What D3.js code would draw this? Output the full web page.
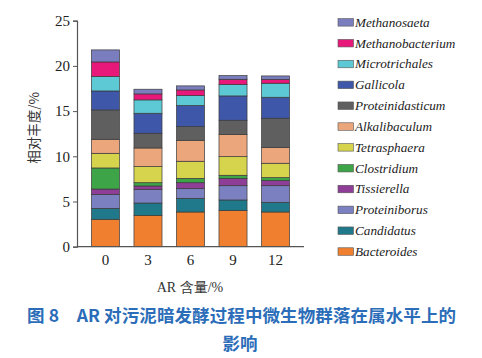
<!DOCTYPE html>
<html><head><meta charset="utf-8">
<script src="https://cdn.jsdelivr.net/npm/d3@7"></script>
<style>body{margin:0;background:#fff}svg{display:block}</style>
</head><body><div id="c"></div>
<script>
const categories = ["0","3","6","9","12"];
const genera = ["Bacteroides","Candidatus","Proteiniborus","Tissierella","Clostridium","Tetrasphaera","Alkalibaculum","Proteinidasticum","Gallicola","Microtrichales","Methanobacterium","Methanosaeta"];
const colors = ["#F0802F","#20798A","#7B80C0","#8E3E96","#3DA548","#D6D44C","#EBA67C","#5F5F5F","#3F57A8","#5DC9D5","#E8187B","#7A7EBE"];
const Bacteroides      = [3.03,3.47,3.84,3.99,3.84];
const Candidatus       = [1.21,1.36,1.51,1.18,1.07];
const Proteiniborus    = [1.55,1.52,1.07,1.58,1.84];
const Tissierella      = [0.59,0.37,0.66,0.81,0.56];
const Clostridium      = [2.33,0.36,0.48,0.34,0.33];
const Tetrasphaera     = [1.62,1.78,1.89,2.06,1.59];
const Alkalibaculum    = [1.55,2.06,2.32,2.44,1.73];
const Proteinidasticum = [3.25,1.63,1.51,1.59,3.25];
const Gallicola        = [2.10,2.21,2.33,2.69,2.32];
const Microtrichales   = [1.59,1.48,1.11,1.25,1.55];
const Methanobacterium = [1.62,0.66,0.62,0.59,0.44];
const Methanosaeta     = [1.33,0.52,0.45,0.41,0.37];
const yTicks = [0,5,10,15,20,25];

const series = [Bacteroides,Candidatus,Proteiniborus,Tissierella,Clostridium,Tetrasphaera,Alkalibaculum,Proteinidasticum,Gallicola,Microtrichales,Methanobacterium,Methanosaeta];
const rows = categories.map((c,i)=>{const o={cat:c}; genera.forEach((g,j)=>o[g]=series[j][i]); return o;});
const stacked = d3.stack().keys(genera)(rows);

const W=482,H=358;
const svg=d3.select("#c").append("svg").attr("width",W).attr("height",H);
const x=d3.scaleBand().domain(categories).range([77,304]).padding(0.34);
const y=d3.scaleLinear().domain([0,25]).range([246.7,20.7]);
const serif='"Liberation Serif","DejaVu Serif",serif';

svg.append("g").selectAll("g").data(stacked).join("g")
  .attr("fill",(d,i)=>colors[i])
  .selectAll("rect").data(d=>d).join("rect")
  .attr("x",d=>x(d.data.cat)).attr("width",x.bandwidth())
  .attr("y",d=>y(d[1])).attr("height",d=>y(d[0])-y(d[1]))
  .attr("stroke","#3a3a3a").attr("stroke-width",0.7);

const ya=svg.append("g").attr("transform","translate(77,0)")
  .call(d3.axisLeft(y).tickValues(yTicks).tickSize(4).tickPadding(3));
ya.select(".domain").attr("stroke","#555").attr("stroke-width",1.2);
ya.selectAll(".tick line").attr("stroke","#555");
ya.selectAll("text").attr("font-family",serif).attr("font-size",15).attr("fill","#222");

const xa=svg.append("g").attr("transform","translate(0,246.7)")
  .call(d3.axisBottom(x).tickSize(0).tickPadding(8).tickSizeOuter(0));
xa.select(".domain").attr("stroke","#555").attr("stroke-width",1.2).attr("d","M77,0H304");
xa.selectAll("text").attr("font-family",serif).attr("font-size",15).attr("fill","#222");

svg.append("text").attr("transform","translate(39,128) rotate(-90)")
  .attr("text-anchor","middle").attr("font-family",'"Noto Sans CJK SC",sans-serif')
  .attr("font-size",13.5).attr("fill","#333").text("相对丰度/%");

svg.append("text").attr("x",190).attr("y",292).attr("text-anchor","middle")
  .attr("font-family",serif).attr("font-size",14).attr("fill","#333")
  .text("AR 含量/%");

// legend
const leg=svg.append("g");
const order=genera.slice().reverse();
const ly=d3.scaleBand().domain(order).range([12,262]);
order.forEach(g=>{
  const i=genera.indexOf(g);
  const yy=ly(g)+ly.bandwidth()/2;
  leg.append("rect").attr("x",338).attr("y",yy-3.8).attr("width",15.5).attr("height",7.5)
    .attr("fill",colors[i]).attr("stroke","#555").attr("stroke-width",0.6);
  leg.append("text").attr("x",355).attr("y",yy+4.3).attr("font-family",serif)
    .attr("font-style","italic").attr("font-size",13.2).attr("fill","#222").text(g);
});

const cap='"Noto Sans CJK SC",sans-serif';
svg.append("text").attr("x",27).attr("y",322).attr("font-family",cap).attr("font-weight","bold")
  .attr("font-size",17.5).attr("letter-spacing",0.1).attr("fill","#2B6DB8").attr("xml:space","preserve")
  .text("图 8\u2003AR 对污泥暗发酵过程中微生物群落在属水平上的");
svg.append("text").attr("x",240).attr("y",350).attr("text-anchor","middle").attr("font-family",cap).attr("font-weight","bold")
  .attr("font-size",17.5).attr("fill","#2B6DB8").text("影响");
</script></body></html>
